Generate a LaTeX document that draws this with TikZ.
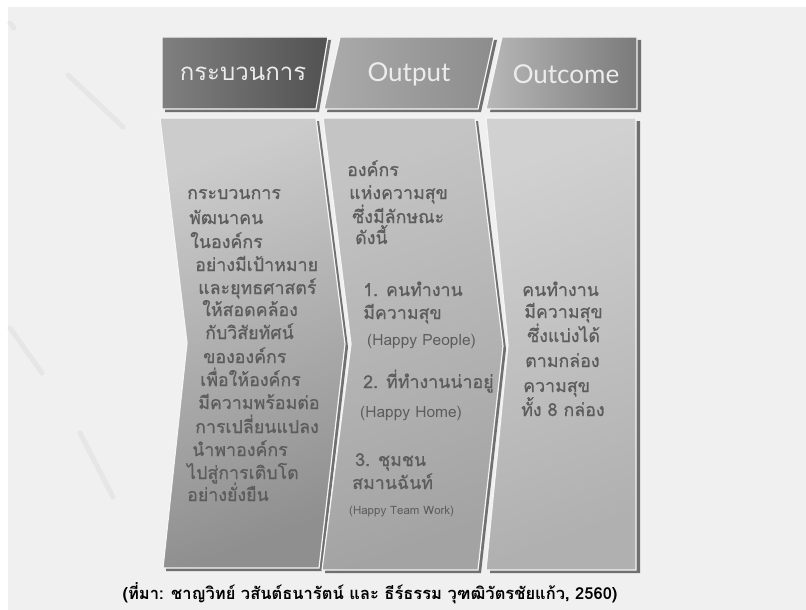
\documentclass[tikz,border=0pt]{standalone}
\usepackage{fontspec}
\setmainfont{Lato}
\newfontfamily\thai[Script=Thai]{Loma}
\newfontfamily\thaim[Script=Thai, FakeBold=0.7]{Loma}
\newfontfamily\lat{Lato}
\definecolor{bg}{HTML}{F0F0F0}
\definecolor{bgline}{HTML}{E6E6E6}
\definecolor{shadowc}{HTML}{707070}
\definecolor{txtg}{HTML}{5C5C5C}
\definecolor{hdtxt}{HTML}{ECECEC}
\tikzset{
  bgstroke/.style={draw=bgline, line width=5pt, line cap=round},
  shadowfill/.style={fill=shadowc},
  rim/.style={draw=white!92!gray, line width=1.2pt},
  hdtext/.style={text=hdtxt, inner sep=0pt},
  ptxt/.style={anchor=base west, inner sep=0pt, text=txtg, font=\thaim\fontsize{17.8}{20}\selectfont},
  ltxt/.style={anchor=base west, inner sep=0pt, text=txtg, font=\thai\fontsize{15.5}{18}\selectfont},
}
\begin{document}
\begin{tikzpicture}[x=1pt,y=-1pt]
\useasboundingbox (0,0) rectangle (806,610);
\fill[white] (0,0) rectangle (806,610);
\fill[bg] (8,7) rectangle (806,610);
% faint background strokes
\draw[bgstroke] (10,23) -- (14,28);
\draw[bgstroke] (68,75) -- (123,127);
\draw[bgstroke] (10,328) -- (42,373);
\draw[bgstroke] (80,433) -- (113,497);

% ---------- headers ----------
\fill[shadowfill] ([shift={(3,3)}]162,37) -- ([shift={(3,3)}]328,37) -- ([shift={(3,3)}]316,109) -- ([shift={(3,3)}]162,109) -- cycle;
\shade[left color=black!50, right color=black!68, rim] (162,37) -- (328,37) -- (316,109) -- (162,109) -- cycle;
\fill[shadowfill] ([shift={(3,3)}]340,37) -- ([shift={(3,3)}]494,37) -- ([shift={(3,3)}]478,109) -- ([shift={(3,3)}]324,109) -- cycle;
\shade[left color=black!33, right color=black!45, rim] (340,37) -- (494,37) -- (478,109) -- (324,109) -- cycle;
\fill[shadowfill] ([shift={(4,3)}]502,37) -- ([shift={(4,3)}]637,37) -- ([shift={(4,3)}]637,109) -- ([shift={(4,3)}]486,109) -- cycle;
\shade[left color=black!28, right color=black!52, rim] (502,37) -- (637,37) -- (637,109) -- (486,109) -- cycle;

\node[hdtext, font=\thai\fontsize{24}{26}\selectfont] (h1) at (243,74) {กระบวนการ};
\node[hdtext, font=\lat\fontsize{26}{28}\selectfont] (h2) at (409,74) {Output};
\node[hdtext, font=\lat\fontsize{26}{28}\selectfont] (h3) at (566,74) {Outcome};

% ---------- panels ----------
\fill[shadowfill] ([shift={(3,3)}]160,118) -- ([shift={(3,3)}]316,118) -- ([shift={(3,3)}]345,344) -- ([shift={(3,3)}]319,568) -- ([shift={(3,3)}]163,568) -- ([shift={(3,3)}]187,343) -- cycle;
\shade[top color=black!20, bottom color=black!44, shading angle=20, rim] (160,118) -- (316,118) -- (345,344) -- (319,568) -- (163,568) -- (187,343) -- cycle;
\fill[shadowfill] ([shift={(3,3)}]323,118) -- ([shift={(3,3)}]475,118) -- ([shift={(3,3)}]503,346) -- ([shift={(3,3)}]478,570) -- ([shift={(3,3)}]322,570) -- ([shift={(3,3)}]351,344) -- cycle;
\shade[top color=black!23, bottom color=black!36, shading angle=20, rim] (323,118) -- (475,118) -- (503,346) -- (478,570) -- (322,570) -- (351,344) -- cycle;
\fill[shadowfill] ([shift={(4,3)}]486,118) -- ([shift={(4,3)}]636,118) -- ([shift={(4,3)}]636,570) -- ([shift={(4,3)}]486,570) -- ([shift={(4,3)}]508,345) -- cycle;
\shade[top color=black!18, bottom color=black!31, shading angle=20, rim] (486,118) -- (636,118) -- (636,570) -- (486,570) -- (508,345) -- cycle;

% ---------- panel 1 text ----------
\foreach \xx/\yy/\w [count=\i] in {
  187/193/กระบวนการ, 189/218/พัฒนาคน, 190/242/ในองค์กร,
  195/265/อย่างมีเป้าหมาย, 198/288/และยุทธศาสตร์, 202/310/ให้สอดคล้อง,
  205/333/กับวิสัยทัศน์, 203/357/ขององค์กร, 200/380/เพื่อให้องค์กร,
  198/403/มีความพร้อมต่อ, 195/427/การเปลี่ยนแปลง, 192/450/นำพาองค์กร,
  187/473/ไปสู่การเติบโต, 187/495/อย่างยั่งยืน}
  {\node[ptxt] (pa\i) at (\xx,\yy+6) {\w};}

% ---------- panel 2 text ----------
\foreach \xx/\yy/\w [count=\i] in {
  347/170/องค์กร, 349/193/แห่งความสุข, 352/217/ซึ่งมีลักษณะ, 355/238/ดังนี้,
  363/290/1. คนทำงาน, 363/313/มีความสุข, 363/382/2. ที่ทำงานน่าอยู่,
  355/460/3. ชุมชน, 352/483/สมานฉันท์}
  {\node[ptxt] (pb\i) at (\xx,\yy+6) {\w};}
\node[ltxt] (hp1) at (367,345) {(Happy People)};
\node[ltxt] (hp2) at (360,417) {(Happy Home)};
\node[ltxt, font=\thai\fontsize{11.5}{13}\selectfont] (hp3) at (349,514) {(Happy Team Work)};

% ---------- panel 3 text ----------
\foreach \xx/\yy/\w [count=\i] in {
  522/290/คนทำงาน, 524/312/มีความสุข, 527/336/ซึ่งแบ่งได้,
  525/361/ตามกล่อง, 523/386/ความสุข, 521/410/ทั้ง 8 กล่อง}
  {\node[ptxt] (pc\i) at (\xx,\yy+6) {\w};}

% ---------- caption ----------
\node[inner sep=0pt, text=black, font=\thai\bfseries\fontsize{16.5}{18}\selectfont] (cap) at (370,593)
  {(ที่มา: ชาญวิทย์ วสันต์ธนารัตน์ และ ธีร์ธรรม วุฑฒิวัตรชัยแก้ว, 2560)};
\end{tikzpicture}
\end{document}
